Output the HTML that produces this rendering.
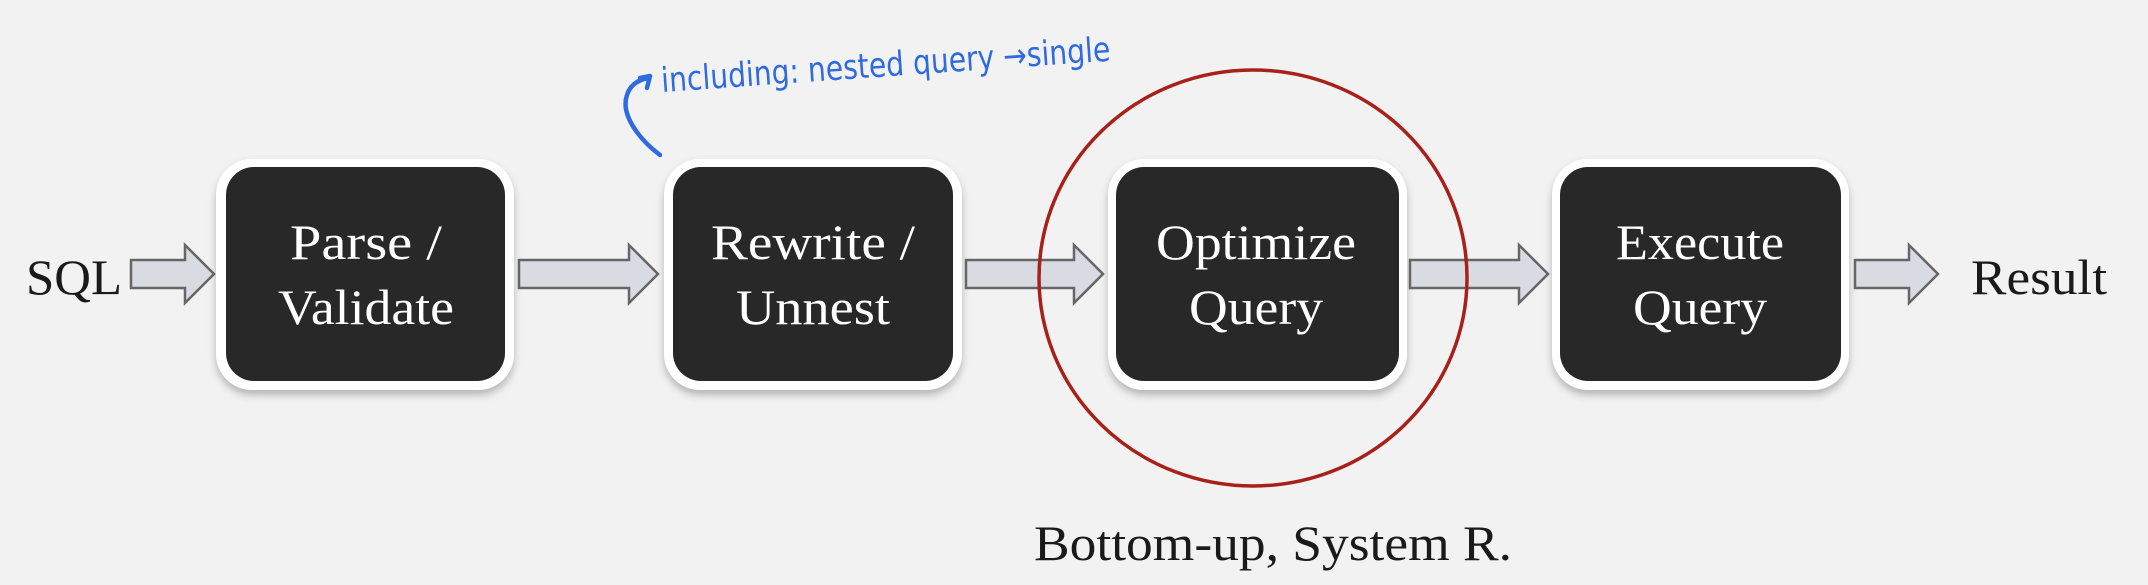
<!DOCTYPE html>
<html><head><meta charset="utf-8"><style>
html,body{margin:0;padding:0;background:#f2f2f2;}
svg{display:block;}
.t{font-family:"Liberation Serif",serif;font-size:50px;fill:#fff;text-anchor:middle;}
.k{font-family:"Liberation Serif",serif;font-size:50px;fill:#1a1a1a;}
</style></head><body>
<svg width="2148" height="585" viewBox="0 0 2148 585" xmlns="http://www.w3.org/2000/svg">
<defs>
<filter id="sh" x="-10%" y="-10%" width="120%" height="130%"><feDropShadow dx="0" dy="5" stdDeviation="4" flood-color="#000" flood-opacity="0.25"/></filter>
</defs>
<rect width="2148" height="585" fill="#f2f2f2"/>
<g id="boxes">
<g filter="url(#sh)">
<rect x="216" y="159" width="298" height="231" rx="36" fill="#fff"/>
<rect x="664" y="159" width="298" height="231" rx="36" fill="#fff"/>
<rect x="1108" y="159" width="299" height="231" rx="36" fill="#fff"/>
<rect x="1552" y="159" width="297" height="231" rx="36" fill="#fff"/>
</g>
<rect x="226" y="167" width="279" height="214" rx="28" fill="#282828"/>
<rect x="673" y="167" width="280" height="214" rx="28" fill="#282828"/>
<rect x="1116" y="167" width="283" height="214" rx="28" fill="#282828"/>
<rect x="1560" y="167" width="281" height="214" rx="28" fill="#282828"/>
</g>
<g class="t">
<text x="366" y="259" textLength="152" lengthAdjust="spacingAndGlyphs">Parse /</text>
<text x="366" y="324" textLength="176" lengthAdjust="spacingAndGlyphs">Validate</text>
<text x="813" y="259" textLength="204" lengthAdjust="spacingAndGlyphs">Rewrite /</text>
<text x="813" y="324" textLength="154" lengthAdjust="spacingAndGlyphs">Unnest</text>
<text x="1256" y="259" textLength="200" lengthAdjust="spacingAndGlyphs">Optimize</text>
<text x="1256" y="324" textLength="134" lengthAdjust="spacingAndGlyphs">Query</text>
<text x="1700" y="259" textLength="168" lengthAdjust="spacingAndGlyphs">Execute</text>
<text x="1700" y="324" textLength="134" lengthAdjust="spacingAndGlyphs">Query</text>
</g>
<g fill="#d8dbe2" stroke="#666" stroke-width="2.5" stroke-linejoin="miter">
<path d="M131 260 H185 V245 L214 274 L185 303 V288 H131 Z"/>
<path d="M519 260 H629 V245 L658 274 L629 303 V288 H519 Z"/>
<path d="M966 260 H1074 V245 L1103 274 L1074 303 V288 H966 Z"/>
<path d="M1410 260 H1519 V245 L1548 274 L1519 303 V288 H1410 Z"/>
<path d="M1855 260 H1909 V245 L1938 274 L1909 303 V288 H1855 Z"/>
</g>
<ellipse cx="1253" cy="278" rx="214" ry="208" fill="none" stroke="#a8201a" stroke-width="3.5"/>
<text class="k" x="26" y="294" textLength="96" lengthAdjust="spacingAndGlyphs">SQL</text>
<text class="k" x="1971" y="294" textLength="136" lengthAdjust="spacingAndGlyphs">Result</text>
<text class="k" x="1034" y="560" textLength="478" lengthAdjust="spacingAndGlyphs">Bottom-up, System R.</text>
<g stroke="#2f6bdf" fill="none" stroke-width="4.5" stroke-linecap="round" stroke-linejoin="round">
<path d="M660 155 C640 140 620 115 627 95 C630 85 638 80 648 78"/>
<path d="M640 78 L650 76 L647 88"/>
</g>
<text x="662" y="92" transform="rotate(-4 662 92)" textLength="450" lengthAdjust="spacingAndGlyphs" font-family="'DejaVu Sans Condensed','DejaVu Sans',sans-serif" font-size="34" fill="#2f6bdf">including: nested query →single</text>
</svg>
</body></html>
